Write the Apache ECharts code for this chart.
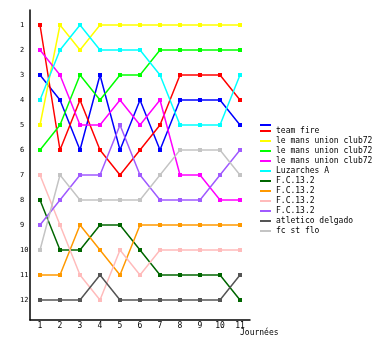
<!DOCTYPE html>
<html>
<head>
<meta charset="utf-8">
<script src="https://cdn.jsdelivr.net/npm/echarts@6/dist/echarts.min.js"></script>
<style>html,body{margin:0;padding:0;background:#fff}#c{width:380px;height:350px}</style>
</head>
<body>
<div id="c"></div>
<script>
const rounds = ['1','2','3','4','5','6','7','8','9','10','11'];
const rankTicks = [1,2,3,4,5,6,7,8,9,10,11,12];
const teamNames = ['', 'team fire', 'le mans union club72', 'le mans union club72', 'le mans union club72', 'Luzarches A', 'F.C.13.2', 'F.C.13.2', 'F.C.13.2', 'F.C.13.2', 'atletico delgado', 'fc st flo'];
const teamColors = ['#0000ff', '#ff0000', '#ffff00', '#00ff00', '#ff00ff', '#00ffff', '#006600', '#ff9900', '#ffbbbb', '#a05aff', '#555555', '#c4c4c4'];

const blueTeam     = [3,4,6,3,6,4,6,4,4,4,5];
const teamFire     = [1,6,4,6,7,6,5,3,3,3,4];
const leMansYellow = [5,1,2,1,1,1,1,1,1,1,1];
const leMansGreen  = [6,5,3,4,3,3,2,2,2,2,2];
const leMansPink   = [2,3,5,5,4,5,4,7,7,8,8];
const luzarches    = [4,2,1,2,2,2,3,5,5,5,3];
const fcDarkGreen  = [8,10,10,9,9,10,11,11,11,11,12];
const fcOrange     = [11,11,9,10,11,9,9,9,9,9,9];
const fcPink       = [7,9,11,12,10,11,10,10,10,10,10];
const fcPurple     = [9,8,7,7,5,7,8,8,8,7,6];
const atletico     = [12,12,12,11,12,12,12,12,12,12,11];
const fcStFlo      = [10,7,8,8,8,8,7,6,6,6,7];

const allSeries = [blueTeam, teamFire, leMansYellow, leMansGreen, leMansPink, luzarches, fcDarkGreen, fcOrange, fcPink, fcPurple, atletico, fcStFlo];

const font = 'DejaVu Sans Mono';
const series = allSeries.map((vals, i) => ({
  type: 'line',
  name: teamNames[i] + '|' + i,
  data: vals,
  symbol: 'rect',
  symbolSize: 4,
  color: teamColors[i],
  lineStyle: { width: 1.5, color: teamColors[i] },
  itemStyle: { color: teamColors[i] },
  emphasis: { disabled: true }
}));

const chart = echarts.init(document.getElementById('c'), null, { renderer: 'canvas' });
chart.setOption({
  animation: false,
  backgroundColor: '#ffffff',
  grid: { left: 30, top: 10, width: 220, height: 310, containLabel: false },
  legend: {
    orient: 'vertical',
    left: 260,
    top: 122,
    padding: 0,
    itemGap: -4,
    itemWidth: 11,
    itemHeight: 2,
    icon: 'rect',
    selectedMode: false,
    data: series.map(s => s.name),
    formatter: n => n.split('|')[0],
    textStyle: { fontFamily: font, fontSize: 8, lineHeight: 8, color: '#000', padding: [6, 0, 0, 0] }
  },
  xAxis: {
    type: 'category',
    data: rounds,
    boundaryGap: true,
    name: 'Journées',
    nameLocation: 'end',
    nameGap: 0,
    nameMoveOverlap: false,
    nameTextStyle: { fontFamily: font, fontSize: 8, color: '#000', align: 'left', verticalAlign: 'top', padding: [9, 0, 0, 0], rich: {} },
    axisLine: { lineStyle: { color: '#000', width: 1.5 } },
    axisTick: { show: false },
    axisLabel: { fontFamily: font, fontSize: 8, color: '#000', margin: 2, interval: 0 },
    splitLine: { show: false }
  },
  yAxis: {
    type: 'value',
    inverse: true,
    min: 0.4,
    max: 12.8,
    axisLine: { show: true, lineStyle: { color: '#000', width: 1.5 } },
    axisTick: { show: false },
    axisLabel: { fontFamily: font, fontSize: 7, color: '#000', margin: 10, align: 'left', customValues: rankTicks },
    splitLine: { show: false }
  },
  graphic: [],
  series: series
});
// shift the axis name left by its offset inside the axis
chart.setOption({ xAxis: { nameTextStyle: { padding: [9, 0, 0, 0] }, nameGap: -10 } });
</script>
</body>
</html>
